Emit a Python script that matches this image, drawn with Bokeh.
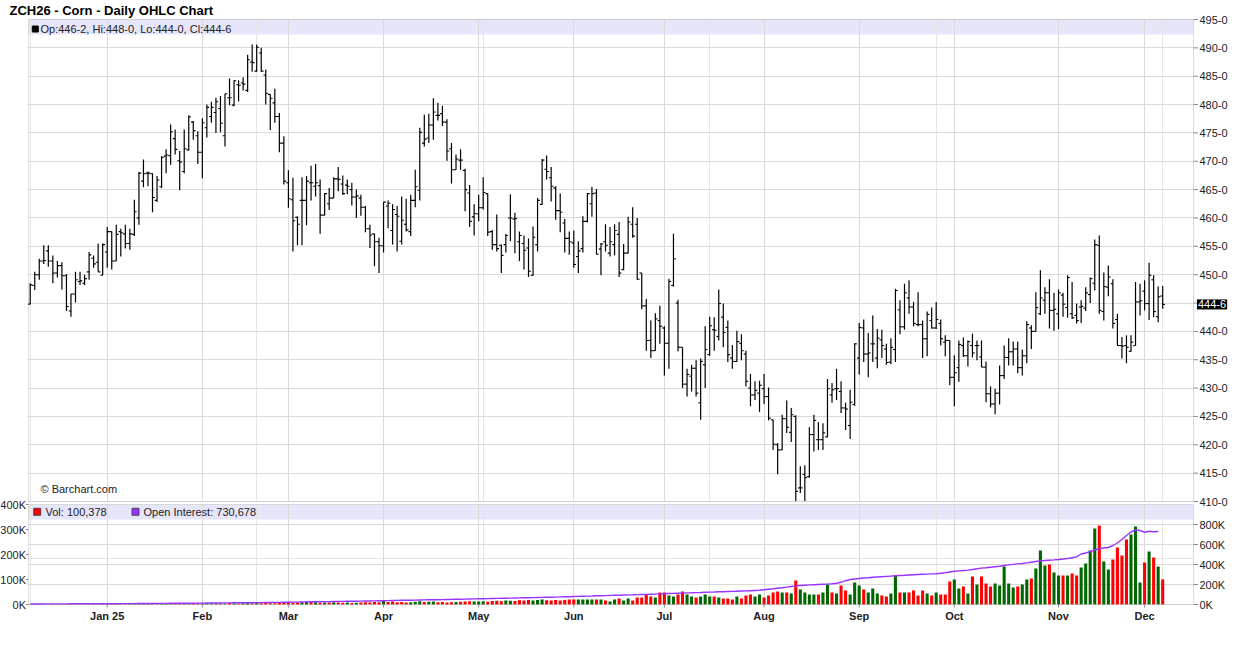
import math
from bokeh.plotting import figure
from bokeh.models import (ColumnDataSource, FixedTicker, Range1d, Grid, Label, BoxAnnotation)
from bokeh.core.properties import value
from bokeh.embed import file_html
from bokeh.resources import INLINE

# ---------------- data (daily bars, Dec 6 2024 .. Dec 5 2025) ----------------
month_labels = ["Jan 25", "Feb", "Mar", "Apr", "May", "Jun", "Jul", "Aug", "Sep", "Oct", "Nov", "Dec"]
month_starts = [17, 38, 57, 78, 99, 120, 140, 162, 183, 204, 227, 246]

opens = [
    444.8, 448.1, 450.0, 452.4, 454.2, 452.4, 450.3, 451.6, 449.8, 443.6, 446.6, 448.8, 448.5, 450.5, 452.9, 452.2, 449.9,
    454.0, 457.6, 452.4, 457.6, 457.2, 455.5, 457.1, 460.0, 466.5, 467.9, 467.8, 463.1, 465.5, 470.9, 471.0, 474.0, 470.1, 468.2, 472.0, 476.9, 474.5,
    471.6, 475.9, 477.9, 478.6, 479.3, 474.5, 481.2, 479.9, 483.5, 483.8, 482.5, 487.5, 485.9, 489.1, 485.2, 481.8, 480.3, 477.9, 473.2,
    466.2, 463.2, 460.1, 463.1, 463.1, 466.2, 465.6, 465.7, 460.5, 462.5, 463.5, 466.9, 466.0, 465.8, 465.0, 463.7, 463.5, 461.9, 458.1, 457.2, 455.8,
    455.1, 462.1, 457.8, 460.6, 455.9, 458.9, 457.6, 463.1, 464.9, 473.2, 474.1, 476.4, 478.1, 478.4, 476.9, 472.2, 468.5, 470.2, 468.4, 464.4, 460.2,
    460.7, 461.8, 464.3, 457.6, 455.3, 455.2, 455.3, 460.0, 459.8, 455.8, 455.5, 454.7, 449.9, 455.3, 462.4, 468.6, 467.1, 465.3, 461.3, 459.1, 456.4,
    455.6, 453.2, 454.6, 459.4, 462.5, 464.4, 454.5, 455.8, 453.8, 455.3, 457.1, 450.9, 453.8, 458.9, 458.9, 450.3, 444.5, 438.4, 436.6, 441.9,
    440.6, 437.9, 448.1, 445.0, 437.2, 430.7, 432.1, 433.5, 427.4, 434.1, 435.9, 440.3, 439.1, 442.5, 440.7, 435.3, 434.7, 437.9, 436.0, 430.0, 428.8, 429.1,
    429.9, 428.5, 424.4, 420.0, 419.1, 424.6, 422.2, 425.0, 412.4, 414.8, 414.4, 421.8, 420.9, 420.9, 421.4, 428.8, 429.9, 429.4, 426.5, 423.4, 427.1,
    435.3, 440.6, 436.0, 437.8, 435.3, 438.5, 436.9, 434.6, 436.8, 443.8, 440.8, 445.9, 444.3, 441.2, 441.2, 438.7, 441.9, 440.6, 441.4, 438.1, 438.4,
    431.9, 433.6, 437.5, 435.7, 437.5, 437.5, 435.5, 433.7, 429.0, 427.2, 429.1, 432.2, 435.4, 436.4, 436.9, 433.6, 435.7, 440.6, 440.0, 443.1, 445.5, 446.8, 443.7,
    443.1, 446.4, 444.2, 443.1, 442.8, 444.3, 444.1, 446.5, 448.5, 455.2, 443.5, 447.8, 448.4, 442.1, 437.5, 437.5, 436.5, 437.5, 445.2,
    447.1, 444.9, 449.1, 442.6, 446.25,
]
highs = [
    448.5, 450.5, 452.8, 455.2, 455.2, 453.4, 452.4, 452.2, 450.1, 446.6, 450.5, 450.5, 450.0, 454.0, 453.4, 455.5, 455.5,
    458.4, 457.6, 458.8, 458.1, 458.8, 458.1, 463.2, 468.1, 470.3, 468.2, 467.9, 467.4, 470.9, 472.1, 476.5, 475.6, 471.8, 475.6, 478.1, 477.1, 475.3,
    477.6, 480.0, 480.5, 481.2, 481.5, 481.9, 484.6, 484.3, 484.3, 484.8, 488.8, 490.6, 490.6, 490.0, 486.2, 481.8, 482.8, 478.5, 474.4,
    468.4, 467.1, 460.3, 467.2, 467.4, 469.2, 469.5, 466.8, 464.4, 465.3, 467.2, 469.0, 467.5, 466.8, 466.2, 465.0, 464.1, 462.1, 458.8, 457.2, 456.5,
    462.8, 463.1, 462.4, 462.1, 463.8, 463.4, 464.1, 468.5, 475.9, 478.2, 478.4, 481.1, 480.3, 479.8, 477.4, 473.2, 471.2, 472.1, 468.7, 465.8, 462.4,
    464.1, 467.2, 464.3, 457.9, 460.6, 455.3, 457.2, 464.2, 460.9, 457.6, 456.9, 456.4, 458.5, 463.5, 470.4, 471.0, 469.0, 465.6, 464.3, 459.8, 457.6,
    457.8, 455.9, 460.3, 464.4, 465.5, 465.1, 455.6, 458.9, 458.4, 458.9, 459.3, 455.4, 460.2, 461.9, 460.0, 450.3, 445.7, 441.9, 443.2, 444.5,
    440.9, 449.3, 457.2, 445.6, 437.2, 433.4, 434.1, 434.9, 435.2, 440.9, 442.6, 442.5, 447.4, 444.9, 441.9, 437.6, 440.1, 439.5, 436.6, 432.5, 431.2, 431.3,
    432.5, 430.1, 424.4, 420.3, 425.3, 427.8, 426.5, 425.2, 416.2, 416.4, 423.1, 425.3, 424.0, 423.8, 431.6, 430.9, 433.4, 431.2, 427.4, 429.7, 437.9,
    441.5, 442.1, 439.7, 442.8, 440.4, 440.3, 437.8, 438.8, 447.5, 445.5, 448.4, 449.0, 445.2, 446.9, 441.9, 443.5, 444.2, 445.2, 442.1, 439.3, 438.4,
    435.8, 438.4, 438.9, 438.4, 439.6, 438.4, 438.4, 434.7, 430.3, 429.9, 434.0, 437.5, 438.8, 438.2, 438.2, 436.8, 441.8, 441.1, 446.9, 450.8, 447.8, 449.2, 446.8,
    447.4, 446.8, 449.9, 448.7, 444.9, 445.5, 447.8, 449.5, 456.2, 456.9, 450.4, 451.6, 449.2, 443.1, 439.0, 439.3, 439.3, 448.7, 448.4,
    449.0, 452.1, 449.9, 447.9, 448.0,
]
lows = [
    444.8, 447.3, 449.1, 451.9, 451.4, 448.5, 449.5, 447.4, 443.6, 442.6, 445.1, 448.2, 448.2, 449.1, 451.2, 450.5, 449.9,
    451.2, 450.9, 452.4, 453.2, 454.6, 454.4, 456.8, 458.8, 465.4, 465.6, 461.0, 462.8, 465.3, 467.9, 469.4, 471.2, 464.9, 467.9, 471.9, 473.8, 469.5,
    467.0, 474.2, 476.8, 475.0, 475.1, 472.6, 479.9, 479.7, 480.6, 482.5, 482.2, 485.8, 485.8, 485.8, 480.0, 475.5, 476.8, 471.6, 465.9,
    461.8, 454.1, 455.2, 455.2, 458.7, 463.1, 463.8, 457.2, 460.5, 461.4, 463.5, 464.7, 464.1, 464.2, 462.2, 460.0, 460.4, 457.5, 454.7, 451.5, 450.3,
    453.9, 458.2, 455.3, 454.1, 455.3, 457.6, 456.8, 461.9, 463.1, 472.6, 473.2, 473.8, 477.2, 476.2, 470.1, 466.1, 468.5, 468.5, 461.2, 458.4, 456.9,
    459.4, 461.5, 456.8, 454.4, 454.1, 450.3, 453.9, 455.9, 453.8, 452.4, 450.9, 449.6, 449.8, 454.1, 462.3, 466.8, 462.9, 459.7, 457.5, 453.9, 453.5,
    451.2, 450.3, 453.9, 459.2, 460.2, 453.6, 449.9, 454.1, 453.2, 453.4, 449.6, 450.8, 453.8, 456.5, 449.1, 443.9, 436.6, 435.3, 436.6, 437.8,
    432.2, 433.4, 447.9, 436.5, 430.0, 428.5, 429.4, 428.5, 424.4, 430.0, 435.7, 436.6, 438.4, 437.2, 434.6, 433.4, 434.6, 434.9, 430.3, 426.8, 427.9, 425.8,
    427.2, 424.3, 419.1, 414.8, 419.1, 422.1, 420.5, 410.1, 411.5, 410.1, 414.2, 418.8, 419.1, 419.1, 421.3, 427.4, 427.9, 425.6, 422.6, 421.0, 426.9,
    432.4, 434.6, 431.9, 434.6, 433.5, 435.3, 434.1, 434.2, 434.6, 439.5, 440.3, 443.1, 440.9, 440.9, 435.3, 435.6, 440.5, 440.4, 437.5, 435.6, 430.5,
    426.8, 431.1, 435.5, 433.8, 435.4, 434.9, 433.7, 427.5, 426.6, 425.4, 427.1, 431.6, 434.0, 434.0, 432.6, 432.2, 434.4, 436.9, 440.0, 442.9, 443.1, 440.5, 440.1,
    440.4, 442.6, 442.4, 442.2, 441.4, 441.5, 443.6, 445.0, 447.2, 443.1, 441.9, 446.2, 440.5, 437.5, 435.2, 434.4, 436.4, 437.5, 442.8,
    443.7, 442.0, 442.5, 441.6, 444.0,
]
closes = [
    448.2, 450.0, 452.4, 452.5, 452.4, 450.3, 451.6, 449.8, 444.4, 446.6, 449.1, 448.9, 449.3, 453.5, 451.9, 450.5, 455.3,
    457.6, 452.4, 457.1, 457.4, 455.5, 457.2, 461.1, 467.9, 467.8, 467.9, 463.6, 466.7, 470.7, 471.1, 475.2, 472.1, 469.9, 472.2, 477.8, 475.4, 471.6,
    476.8, 479.5, 479.5, 480.5, 476.7, 481.9, 481.2, 484.2, 483.4, 483.6, 487.9, 487.4, 490.1, 485.9, 482.0, 481.1, 477.9, 473.2, 466.5,
    463.4, 459.5, 458.9, 463.1, 466.5, 466.2, 466.2, 460.5, 464.3, 463.5, 466.9, 466.8, 464.3, 465.6, 463.7, 463.9, 461.9, 458.1, 457.0, 455.8, 455.1,
    462.8, 462.6, 461.5, 460.3, 459.6, 457.9, 463.1, 465.5, 475.1, 473.9, 476.4, 478.7, 478.1, 476.9, 471.8, 468.5, 470.4, 470.2, 465.0, 459.4, 460.8,
    461.8, 464.5, 457.5, 455.3, 454.6, 453.4, 456.9, 460.0, 459.9, 456.9, 454.3, 450.6, 456.6, 463.1, 470.2, 468.2, 465.6, 461.3, 461.0, 456.4, 455.8,
    451.8, 454.2, 459.4, 464.3, 464.3, 453.6, 455.4, 455.2, 455.8, 457.8, 450.3, 453.8, 459.3, 456.8, 449.2, 444.5, 438.4, 436.6, 442.2, 440.9,
    437.9, 448.8, 452.8, 437.2, 430.7, 432.4, 433.5, 429.1, 434.7, 436.8, 441.0, 440.2, 444.9, 439.8, 435.9, 434.7, 438.2, 436.6, 431.2, 428.8, 429.6, 430.5,
    428.5, 424.7, 420.1, 419.1, 424.6, 423.1, 425.3, 411.8, 412.4, 414.2, 421.8, 424.3, 420.9, 422.1, 429.9, 429.7, 429.9, 426.5, 426.3, 427.5, 437.8,
    440.7, 436.0, 436.2, 437.8, 438.8, 437.5, 434.5, 437.2, 447.2, 440.8, 446.8, 444.3, 441.4, 441.2, 438.7, 443.0, 440.6, 442.1, 438.7, 438.4, 431.9,
    432.7, 437.7, 435.7, 438.2, 436.2, 437.5, 433.7, 429.0, 427.2, 429.1, 432.2, 435.4, 436.4, 436.9, 433.6, 435.7, 441.2, 440.0, 444.2, 445.9, 446.8, 443.7, 443.9,
    446.8, 444.8, 449.5, 442.4, 441.9, 444.4, 446.8, 449.3, 455.3, 443.7, 447.9, 449.6, 441.4, 437.5, 437.4, 437.2, 438.1, 445.2, 445.4,
    444.9, 449.9, 443.5, 446.1, 444.75,
]

# volume, thousands of contracts
volume_k = [
    1, 1, 2, 1, 1, 2, 1, 1, 2, 1, 1, 2, 1, 1, 2, 1, 2,
    2, 3, 2, 2, 3, 2, 3, 3, 4, 3, 4, 5, 4, 3, 3, 4, 3, 4, 4, 5, 4,
    4, 5, 4, 5, 5, 4, 6, 5, 4, 5, 6, 5, 6, 5, 6, 5, 5, 6, 7,
    8, 7, 8, 9, 10, 12, 9, 7, 8, 8, 9, 8, 7, 8, 6, 7, 8, 9, 8, 10, 9,
    14, 10, 12, 9, 10, 8, 9, 11, 13, 10, 11, 12, 9, 10, 8, 9, 10, 11, 12, 13, 12,
    12, 13, 11, 14, 15, 13, 16, 15, 14, 17, 16, 18, 16, 18, 20, 17, 16, 18, 16, 18, 20,
    20, 20, 20, 20, 20, 20, 20, 16, 12, 20, 24, 16, 24, 16, 28, 28, 40, 32, 28, 48,
    48, 36, 32, 40, 52, 40, 32, 28, 32, 40, 32, 32, 28, 24, 24, 20, 32, 24, 36, 40, 32, 40,
    28, 36, 48, 52, 48, 48, 44, 96, 60, 48, 40, 40, 40, 48, 80, 48, 44, 76, 56, 40, 88,
    76, 60, 48, 64, 44, 36, 32, 44, 116, 48, 48, 48, 56, 36, 56, 44, 36, 48, 40, 40, 92,
    100, 64, 72, 44, 112, 80, 112, 84, 72, 84, 76, 152, 84, 68, 72, 80, 100, 104, 144, 216, 156, 160, 128,
    116, 116, 116, 124, 116, 148, 164, 216, 304, 316, 172, 140, 180, 228, 196, 260, 280, 312, 88,
    168, 212, 188, 152, 100.378,
]

# open interest, thousands of contracts
open_interest_k = [
    5, 5, 5, 5, 6, 6, 6, 6, 6, 7, 7, 7, 7, 7, 7, 8, 8,
    8, 8, 8, 9, 9, 9, 9, 10, 10, 10, 10, 11, 11, 11, 12, 12, 12, 13, 13, 13, 14,
    14, 15, 15, 15, 16, 16, 16, 17, 17, 18, 18, 18, 19, 19, 20, 20, 21, 21, 22,
    23, 24, 24, 25, 26, 27, 27, 28, 29, 29, 30, 31, 31, 32, 33, 33, 34, 35, 35, 36, 37,
    38, 39, 40, 41, 42, 42, 43, 44, 45, 46, 47, 48, 48, 49, 50, 51, 52, 53, 54, 55, 56,
    57, 58, 59, 60, 61, 62, 63, 64, 65, 66, 67, 68, 69, 70, 71, 72, 73, 74, 76, 77, 78,
    80, 81, 83, 84, 85, 87, 88, 89, 91, 92, 93, 95, 96, 97, 99, 100, 101, 103, 104, 106,
    108, 110, 111, 113, 114, 116, 117, 119, 120, 122, 124, 125, 127, 128, 130, 131, 133, 135, 136, 138, 140, 142,
    147, 152, 157, 163, 168, 174, 180, 186, 190, 193, 196, 198, 200, 202, 204, 207, 212, 222, 238, 250, 255,
    260, 265, 268, 272, 275, 278, 281, 284, 287, 290, 292, 295, 298, 300, 302, 304, 306, 308, 312, 318, 325,
    332, 336, 340, 344, 350, 358, 364, 368, 373, 378, 383, 390, 396, 401, 406, 410, 416, 423, 430, 436, 440, 443, 446,
    450, 455, 460, 468, 476, 505, 515, 528, 545, 560, 565, 570, 590, 615, 650, 690, 725, 745, 740,
    722, 732, 728, 730.678,
]

price_ticks = list(range(410, 500, 5))
vol_ticks = [0, 100000, 200000, 300000, 400000]
oi_ticks = [0, 200000, 400000, 600000, 800000]

# ---------------- styling / layout constants (pixels) ----------------
FONT = "Liberation Sans"
GRID = "#dadada"
FRAME = "#8a8a8a"
TXT = "#222222"
BAND = "#e6e6fa"
UP = "#006600"
DOWN = "#ff0000"
OI_COLOR = "#9933ff"

CANVAS_W, CANVAS_H = 1236, 628
PANEL_L, PANEL_R = 28, 1193
PRICE_TOP, PRICE_BOT = 19, 501
VOL_TOP, VOL_BOT = 504, 604
BAR0_PX, PX_PER_BAR = 29.7, 4.53
PRICE_LO, PRICE_HI = 410, 495
VOL_HI, OI_HI = 400000, 1000000
BAND_PX = 15

PPP = (PRICE_BOT - PRICE_TOP) / (PRICE_HI - PRICE_LO)   # pixels per price point
VOL_PER_PX = VOL_HI / (VOL_BOT - VOL_TOP)
OI_PER_PX = OI_HI / (VOL_BOT - VOL_TOP)


def xd(px):
    return (px - BAR0_PX) / PX_PER_BAR


def yd(py):
    return PRICE_HI - (py - PRICE_TOP) / PPP


def vol_y(vv):
    return round(yd(VOL_BOT - vv / VOL_PER_PX), 6)


def oi_y(vv):
    return round(yd(VOL_BOT - vv / OI_PER_PX), 6)


def eighths(v):
    whole = int(math.floor(v + 1e-9))
    frac = int(round((v - whole) * 8))
    if frac == 8:
        whole, frac = whole + 1, 0
    return f"{whole}-{frac}"


n = len(closes)
xs = list(range(n))

p = figure(width=CANVAS_W, height=CANVAS_H,
           x_range=Range1d(xd(0), xd(CANVAS_W)), y_range=Range1d(yd(CANVAS_H), yd(0)),
           output_backend="svg", toolbar_location=None, x_axis_location=None,
           y_axis_location=None, min_border_left=0, min_border_right=0, min_border_top=0,
           min_border_bottom=0, outline_line_color=None)
p.background_fill_color = "white"
p.border_fill_color = "white"
p.extra_y_ranges = {
    "vol": Range1d(-(CANVAS_H - VOL_BOT) * VOL_PER_PX, VOL_BOT * VOL_PER_PX),
    "oi": Range1d(-(CANVAS_H - VOL_BOT) * OI_PER_PX, VOL_BOT * OI_PER_PX),
}

# grids
oi_grid = [oi_y(t) for t in oi_ticks]
p.add_layout(Grid(dimension=0, ticker=FixedTicker(ticks=month_starts), grid_line_color=GRID))
p.add_layout(Grid(dimension=1, ticker=FixedTicker(ticks=price_ticks + oi_grid), grid_line_color=GRID))

# white areas outside the two panels (hide grid there)
for kw in (dict(right=xd(PANEL_L)), dict(left=xd(PANEL_R)), dict(bottom=PRICE_HI),
           dict(bottom=yd(VOL_TOP), top=PRICE_LO), dict(top=yd(VOL_BOT))):
    p.add_layout(BoxAnnotation(fill_color="white", fill_alpha=1.0, line_alpha=0, level="underlay", **kw))

# lavender legend bands
p.add_layout(BoxAnnotation(left=xd(PANEL_L), right=xd(PANEL_R), top=PRICE_HI, bottom=yd(PRICE_TOP + BAND_PX),
                           fill_color=BAND, fill_alpha=1.0, line_alpha=0, level="image"))
p.add_layout(BoxAnnotation(left=xd(PANEL_L), right=xd(PANEL_R), top=yd(VOL_TOP), bottom=yd(VOL_TOP + BAND_PX),
                           fill_color=BAND, fill_alpha=1.0, line_alpha=0, level="image"))

# OHLC bars
src = ColumnDataSource(dict(x=xs, xl=[x - 0.5 for x in xs], xr=[x + 0.5 for x in xs],
                            o=opens, h=highs, l=lows, c=closes))
p.segment(x0="x", y0="l", x1="x", y1="h", source=src, line_color="black", line_width=1.2)
p.segment(x0="xl", y0="o", x1="x", y1="o", source=src, line_color="black", line_width=1.1)
p.segment(x0="x", y0="c", x1="xr", y1="c", source=src, line_color="black", line_width=1.1)

# volume and open interest
colors = [UP if i == 0 or closes[i] >= closes[i - 1] else DOWN for i in range(n)]
vsrc = ColumnDataSource(dict(x=xs, vol=[k * 1000 for k in volume_k], color=colors))
p.vbar(x="x", top="vol", bottom=0, width=0.68, source=vsrc, fill_color="color", line_color=None,
       y_range_name="vol")
p.line(x=xs[:len(open_interest_k)], y=[k * 1000 for k in open_interest_k], y_range_name="oi",
       line_color=OI_COLOR, line_width=1.4)

# panel borders
p.add_layout(BoxAnnotation(left=xd(PANEL_L), right=xd(PANEL_R), bottom=PRICE_LO, top=PRICE_HI,
                           fill_alpha=0, line_color=FRAME, line_width=1, level="guide"))
p.add_layout(BoxAnnotation(left=xd(PANEL_L), right=xd(PANEL_R), bottom=yd(VOL_BOT), top=yd(VOL_TOP),
                           fill_alpha=0, line_color=FRAME, line_width=1, level="guide"))

# right axis: price + open interest (ticks and labels)
last_close = closes[-1]
r_ticks = price_ticks + oi_grid
r_labels = [f"{t}-0" for t in price_ticks] + [f"{t // 1000}K" for t in oi_ticks]
r_show = [not (abs(t - last_close) < 2.5) for t in price_ticks] + [True] * len(oi_ticks)
p.segment(x0=[xd(PANEL_R)] * len(r_ticks), x1=[xd(PANEL_R + 4.5)] * len(r_ticks), y0=r_ticks, y1=r_ticks,
          line_color=FRAME, line_width=1)
rl = ColumnDataSource(dict(x=[xd(PANEL_R + 6)] * sum(r_show),
                           y=[t for t, s in zip(r_ticks, r_show) if s],
                           t=[lab for lab, s in zip(r_labels, r_show) if s]))
p.text(x="x", y="y", text="t", source=rl, text_font=value(FONT), text_font_size=value("11px"),
       text_color=TXT, text_baseline="middle", text_align="left")

# left axis: volume
v_pos = [vol_y(t) for t in vol_ticks]
p.segment(x0=[xd(PANEL_L - 2.5)] * len(v_pos), x1=[xd(PANEL_L)] * len(v_pos), y0=v_pos, y1=v_pos,
          line_color=FRAME, line_width=1)
ll = ColumnDataSource(dict(x=[xd(PANEL_L - 2.5)] * len(v_pos), y=v_pos,
                           t=[f"{t // 1000}K" for t in vol_ticks]))
p.text(x="x", y="y", text="t", source=ll, text_font=value(FONT), text_font_size=value("11px"),
       text_color=TXT, text_baseline="middle", text_align="right")

# bottom date axis: ticks and month labels
p.segment(x0=month_starts, x1=month_starts, y0=[yd(VOL_BOT)] * len(month_starts),
          y1=[yd(VOL_BOT + 3)] * len(month_starts), line_color=FRAME, line_width=1)
ml = ColumnDataSource(dict(x=month_starts, y=[yd(VOL_BOT + 11.5)] * len(month_starts), t=month_labels))
p.text(x="x", y="y", text="t", source=ml, text_font=value(FONT), text_font_size=value("11px"),
       text_font_style="bold", text_color=TXT, text_baseline="middle", text_align="center")

# current price marker
p.add_layout(Label(x=xd(PANEL_R + 3.5), y=last_close, text=eighths(last_close),
                   text_font=FONT, text_font_size="11px", text_color="white",
                   background_fill_color="black", text_baseline="middle", text_align="left", padding=1))

# title and legends
p.add_layout(Label(x=xd(9), y=yd(9.5), text="ZCH26 - Corn - Daily OHLC Chart",
                   text_font=FONT, text_font_style="bold", text_font_size="13px",
                   text_color="black", text_baseline="middle", text_align="left"))
legend_txt = (f"Op:{eighths(opens[-1])}, Hi:{eighths(highs[-1])}, "
              f"Lo:{eighths(lows[-1])}, Cl:{eighths(closes[-1])}")
p.scatter(x=[xd(34.8)], y=[yd(28.5)], marker="square", size=6, fill_color="black", line_color="black")
p.add_layout(Label(x=xd(40), y=yd(28), text=legend_txt, text_font=FONT, text_font_size="11px",
                   text_color=TXT, text_baseline="middle"))
p.scatter(x=[xd(36.7), xd(135)], y=[yd(511.3), yd(511.3)], marker="square", size=7,
          fill_color=[DOWN, OI_COLOR], line_color="#333333", line_width=0.8)
p.add_layout(Label(x=xd(45), y=yd(511.5), text=f"Vol: {round(volume_k[-1] * 1000):,}",
                   text_font=FONT, text_font_size="11px", text_color=TXT, text_baseline="middle"))
p.add_layout(Label(x=xd(143), y=yd(511.5), text=f"Open Interest: {round(open_interest_k[-1] * 1000):,}",
                   text_font=FONT, text_font_size="11px", text_color=TXT, text_baseline="middle"))
p.add_layout(Label(x=xd(40), y=yd(488.5), text="\u00a9 Barchart.com", text_font=FONT,
                   text_font_size="11px", text_color=TXT, text_baseline="middle"))

with open("out.html", "w") as f:
    f.write(file_html(p, INLINE))
